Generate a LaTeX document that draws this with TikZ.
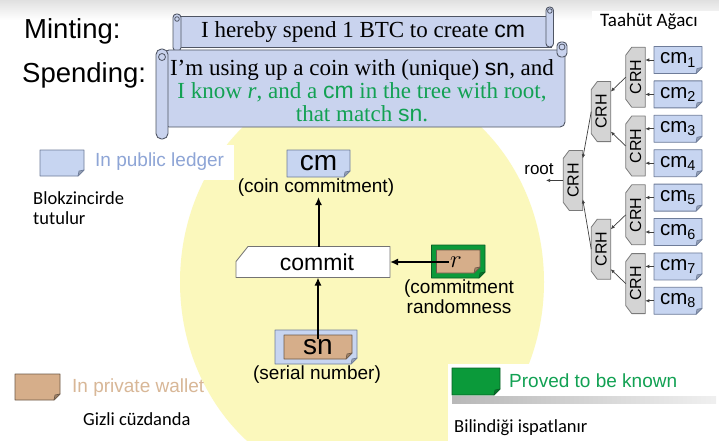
\documentclass[tikz,border=0pt]{standalone}
\usepackage{fontspec}
\setmainfont{Liberation Serif}
\newfontfamily\arialf{Liberation Sans}
\newfontfamily\calibf{Carlito}
\usetikzlibrary{arrows.meta}
\newcommand\setfs[1]{\fontsize{#1}{#1}\selectfont}

\definecolor{yellowbg}{HTML}{FBF8BC}
\definecolor{scrollfill}{HTML}{C9D3EE}
\definecolor{scrollline}{HTML}{4F5563}
\definecolor{pubfill}{HTML}{C7D5F1}
\definecolor{publine}{HTML}{6E7C99}
\definecolor{tanfill}{HTML}{D6AE8A}
\definecolor{tanline}{HTML}{6E5A48}
\definecolor{greenfill}{HTML}{0B9A3A}
\definecolor{greenline}{HTML}{0A5E25}
\definecolor{crhfill}{HTML}{D4D4D4}
\definecolor{crhline}{HTML}{7A7A7A}
\definecolor{greentext}{HTML}{12A153}
\definecolor{pubtext}{HTML}{8EA5D6}
\definecolor{tantext}{HTML}{D8B797}

\pgfdeclarelayer{bg}
\pgfdeclarelayer{shapes}
\pgfsetlayers{bg,shapes,main}

% dog-eared note drawn behind a named node
\newcommand\dogear[3]{%
  \begin{pgfonlayer}{shapes}
  \filldraw[fill=#2,draw=#3,line width=0.8pt,line join=round]
    (#1.north west) -- (#1.north east) -- ([yshift=6pt]#1.south east)
    -- ([xshift=-6pt]#1.south east) -- (#1.south west) -- cycle;
  \filldraw[fill=#2!75!black,draw=#3,line width=0.6pt,line join=round]
    ([yshift=6pt]#1.south east) -- ([xshift=-6pt]#1.south east)
    -- ([xshift=-5pt,yshift=5pt]#1.south east) -- cycle;
  \end{pgfonlayer}}

% hash block with both left corners cut off
\newcommand\crhshape[1]{%
  \begin{pgfonlayer}{shapes}
  \filldraw[fill=crhfill,draw=crhline,line width=0.8pt,line join=round]
    ([xshift=6pt]#1.north west) -- (#1.north east) -- (#1.south east)
    -- ([xshift=6pt]#1.south west) -- ([yshift=8pt]#1.south west)
    -- ([yshift=-8pt]#1.north west) -- cycle;
  \end{pgfonlayer}}

\begin{document}
\begin{tikzpicture}[x=1pt,y=-1pt,
  shapebox/.style={inner sep=0pt,outer sep=0pt},
  lbl/.style={inner sep=0pt,font=\arialf\setfs{19}},
  trlbl/.style={inner sep=0pt,font=\calibf\setfs{18.5},anchor=west},
  leaf/.style={shapebox,minimum width=48pt,minimum height=27pt,font=\arialf\setfs{20.5}},
  crhnode/.style={shapebox,minimum width=19.5pt,minimum height=60pt,font=\arialf\setfs{16}},
  bigarrow/.style={line width=2pt,-{Latex[length=8pt,width=7pt]}},
  tarrow/.style={line width=0.7pt,draw=black!75,-{Latex[length=4pt,width=3.5pt]}},
  scrollsty/.style={fill=scrollfill,draw=scrollline,line width=0.9pt},
  curl/.style={draw=scrollline,line width=0.8pt}]
\useasboundingbox (0,0) rectangle (719,441);

% ---------- background ----------
\begin{pgfonlayer}{bg}
  \fill[white] (0,0) rectangle (719,441);
  \shade[top color=black!12,bottom color=white] (0,0) rectangle (719,20);
  \fill[white] (592,11) rectangle (719,20);
  \fill[yellowbg] (362,282) ellipse [x radius=182pt,y radius=205pt];
  \fill[white] (88,145) rectangle (234,180);
  \fill[white] (448,364) rectangle (719,441);
  \shade[left color=black!28,right color=black!6] (452,396) rectangle (716,403);
\end{pgfonlayer}

% ---------- scrolls ----------
\begin{pgfonlayer}{shapes}
  \filldraw[scrollsty] (178,16) rectangle (551,47);
  \filldraw[scrollsty,rounded corners=3.5pt] (546,7) rectangle (553.5,47);
  \draw[curl] (549.8,11) circle (2.3pt);
  \filldraw[scrollsty,rounded corners=3.5pt] (173,14) rectangle (181,51);
  \draw[curl] (177,19) circle (2.3pt);
  \filldraw[scrollsty,rounded corners=5pt] (164,50) rectangle (565,127);
  \filldraw[scrollsty,rounded corners=4pt] (557,42) rectangle (567,57);
  \draw[curl] (562,47) circle (3pt);
  \filldraw[scrollsty,rounded corners=5.5pt] (156,49) rectangle (168,139);
  \draw[curl] (162,57) circle (3.5pt);
\end{pgfonlayer}

\node[inner sep=0pt,font=\setfs{23}] (mint) at (363,32)
  {I hereby spend 1 BTC to create {\arialf cm}};
\node[inner sep=0pt,font=\setfs{23},align=center] (spend) at (362,91)
  {I’m using up a coin with (unique) {\arialf sn}, and\\
   \textcolor{greentext}{I know \textit{r}, and a {\arialf cm} in the tree with root,}\\
   \textcolor{greentext}{that match {\arialf sn}.}};

\node[inner sep=0pt,font=\arialf\setfs{27.5},anchor=west] (minting) at (24,31) {Minting:};
\node[inner sep=0pt,font=\arialf\setfs{27.5},anchor=west] (spending) at (22,75) {Spending:};

% ---------- legend ----------
\node[shapebox,minimum width=44pt,minimum height=26pt] (pubkey) at (62,163) {};
\dogear{pubkey}{pubfill}{publine}
\node[lbl,anchor=west,text=pubtext] (pubtxt) at (95,162) {In public ledger};
\node[trlbl,align=left] (pubtr) at (33,208) {Blokzincirde\\[1pt]tutulur};

\node[shapebox,minimum width=45pt,minimum height=26pt] (tankey) at (37.5,387) {};
\dogear{tankey}{tanfill}{tanline}
\node[lbl,anchor=west,text=tantext] (tantxt) at (72,388) {In private wallet};
\node[trlbl] (tantr) at (83,419) {Gizli cüzdanda};

\node[shapebox,minimum width=48pt,minimum height=27pt] (greenkey) at (476,381.5) {};
\dogear{greenkey}{greenfill}{greenline}
\node[lbl,anchor=west,text=greentext] (greentxt) at (509,381) {Proved to be known};
\node[trlbl] (greentr) at (454,428) {Bilindiği ispatlanır};

% ---------- commitment ----------
\node[shapebox,minimum width=63pt,minimum height=27pt,font=\arialf\setfs{28}] (cm) at (318.5,163.5) {cm};
\dogear{cm}{pubfill}{publine}
\node[lbl] (cmlbl) at (316,188) {(coin commitment)};

\node[shapebox,minimum width=154pt,minimum height=31pt,font=\arialf\setfs{23}] (commit) at (313,262) {\hspace*{8pt}commit};
\begin{pgfonlayer}{shapes}
  \filldraw[fill=white,draw=black!55,line width=0.8pt,line join=round]
    ([yshift=-15pt]commit.north west) -- ([xshift=12pt]commit.north west)
    -- (commit.north east) -- (commit.south east) -- (commit.south west) -- cycle;
\end{pgfonlayer}

\node[shapebox,minimum width=53.5pt,minimum height=33pt] (rbox) at (458.25,261.5) {};
\dogear{rbox}{greenfill}{greenline}
\node[shapebox,minimum width=43.5pt,minimum height=23pt] (rin) at (458.25,261.5) {};
\dogear{rin}{tanfill}{tanline}
\node[inner sep=1pt,font=\setfs{30}] (rtxt) at (456,262) {$r$};
\node[lbl,align=center,font=\arialf\fontsize{19}{20}\selectfont] (rlbl) at (459,297) {(commitment\\randomness};

\node[shapebox,minimum width=82pt,minimum height=34pt] (snbox) at (316,347) {};
\dogear{snbox}{pubfill}{publine}
\node[shapebox,minimum width=68pt,minimum height=24pt] (snin) at (318,347) {};
\dogear{snin}{tanfill}{tanline}
\node[inner sep=0pt,font=\arialf\setfs{28}] (sntxt) at (318,347) {sn};
\node[lbl] (snlbl) at (317,375) {(serial number)};

\draw[bigarrow] (commit.north -| cm.south) -- (cmlbl.south -| cm.south);
\draw[bigarrow] (sntxt.north) -- (sntxt.north |- commit.south);
\draw[bigarrow] (rtxt.west) -- (rtxt.west -| commit.east);

% ---------- hash tree ----------
\node[trlbl,anchor=center,font=\calibf\setfs{19}] (treettl) at (649,22) {Taahüt Ağacı};

\foreach \k in {1,...,8} {
  \node[leaf] (cm\k) at (678,{60+(\k-1)*34.4}) {cm\textsubscript{\k}};
  \dogear{cm\k}{pubfill}{publine}
}
\foreach \i in {1,...,4} {
  \node[crhnode] (h\i) at (635.5,{77.2+(\i-1)*68.8}) {\rotatebox{90}{CRH}};
  \crhshape{h\i}
}
\node[crhnode] (g1) at (601,111.6) {\rotatebox{90}{CRH}};
\crhshape{g1}
\node[crhnode] (g2) at (601,249.2) {\rotatebox{90}{CRH}};
\crhshape{g2}
\node[crhnode] (top) at (573,180.4) {\rotatebox{90}{CRH}};
\crhshape{top}

\foreach \k/\i in {1/1,2/1,3/2,4/2,5/3,6/3,7/4,8/4}
  \draw[tarrow] (cm\k.west) -- (cm\k.west -| h\i.east);

\draw[tarrow] (h1.west) -- ([yshift=20pt]g1.east);
\draw[tarrow] (h2.west) -- ([yshift=-20pt]g1.east);
\draw[tarrow] (h3.west) -- ([yshift=20pt]g2.east);
\draw[tarrow] (h4.west) -- ([yshift=-20pt]g2.east);
\draw[tarrow] (g1.west) -- ([yshift=22pt]top.east);
\draw[tarrow] (g2.west) -- ([yshift=-19pt]top.east);

\coordinate (rootend) at (546,180.4);
\draw[tarrow] (top.west) -- (rootend);
\node[inner sep=0pt,font=\arialf\setfs{17}] (rootlbl) at (539,169) {root};
\end{tikzpicture}
\end{document}
